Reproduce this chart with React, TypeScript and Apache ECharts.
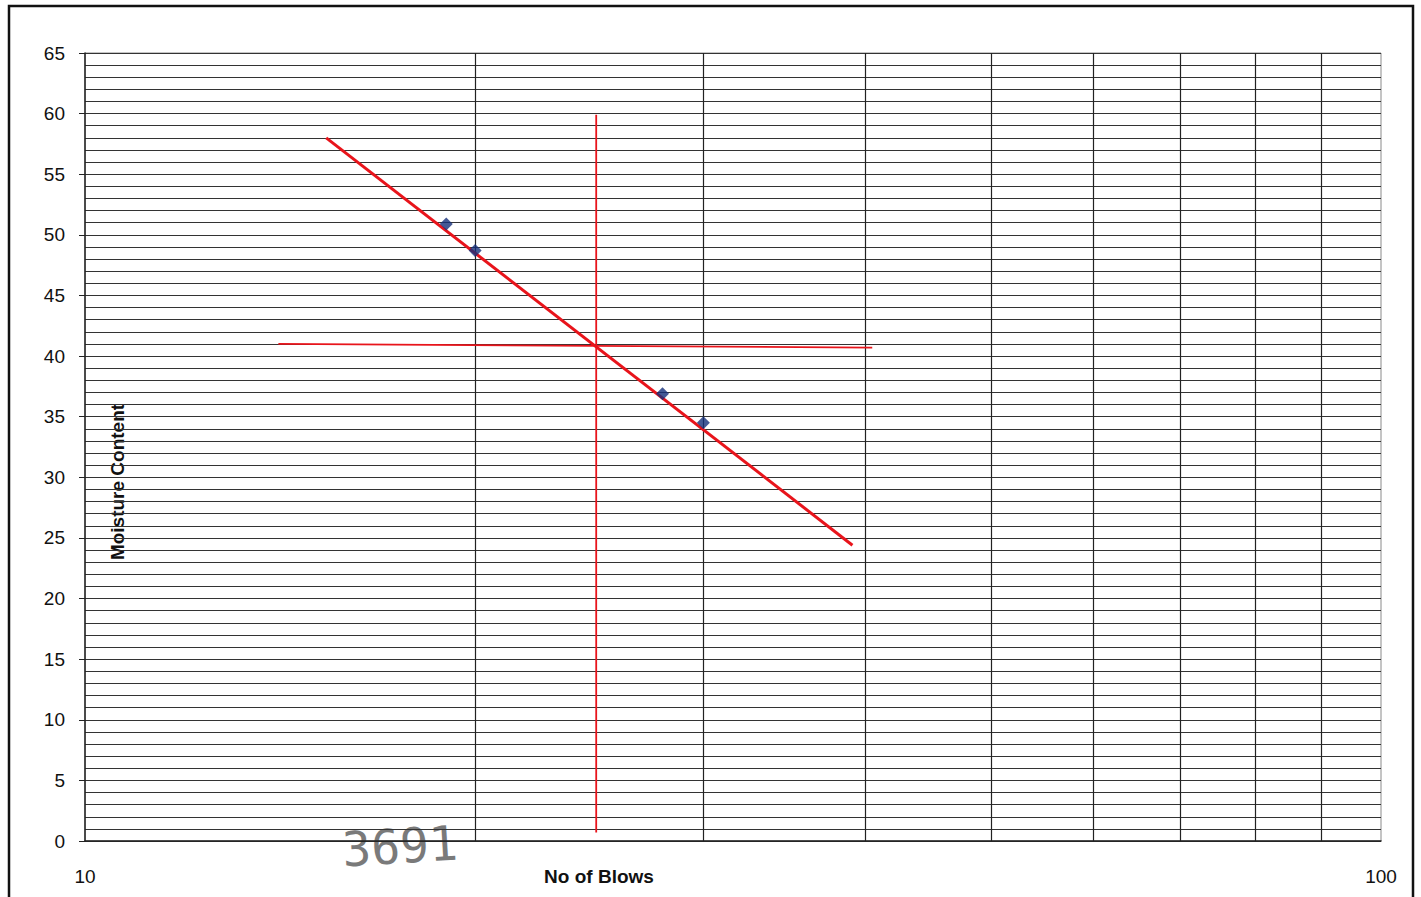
import React, { useEffect, useRef } from "react";
import * as echarts from "echarts";

const blows = [19, 20, 27.9, 30];
const moisture = [50.9, 48.7, 36.9, 34.5];
const trendX = [15.35, 39.1];
const trendY = [58.0, 24.4];
const crossV = [[24.8, 59.9], [24.8, 0.7]];
const crossH = [[14.1, 41.0], [40.5, 40.7]];
const verticalGrid = [20, 30, 40, 50, 60, 70, 80, 90];
const yTicks = [0, 5, 10, 15, 20, 25, 30, 35, 40, 45, 50, 55, 60, 65];

export default function App() {
  const ref = useRef<HTMLDivElement>(null);
  useEffect(() => {
    document.body.style.margin = "0";
    const chart = echarts.init(ref.current!, null, { renderer: "svg" });
    const font = "Liberation Sans, Arial, sans-serif";
    chart.setOption({
      animation: false,
      backgroundColor: "#ffffff",
      grid: { left: 85, right: 40, top: 53, bottom: 56, show: true, borderColor: "#8a8a8a", borderWidth: 1 },
      xAxis: {
        type: "log",
        logBase: 10,
        min: 10,
        max: 100,
        axisLine: { show: true, onZero: false, lineStyle: { color: "#222", width: 1.5 } },
        axisTick: { show: false },
        splitLine: { show: false },
        axisLabel: { color: "#111", fontSize: 19, fontFamily: font, margin: 26 },
      },
      yAxis: {
        type: "value",
        min: 0,
        max: 65,
        interval: 5,
        axisLine: { show: true, lineStyle: { color: "#222", width: 1.5 } },
        axisTick: { show: true, length: 6, lineStyle: { color: "#222" } },
        axisLabel: {
          color: "#111",
          fontSize: 19,
          fontFamily: font,
          margin: 20,
          formatter: (v: number) => (yTicks.includes(v) ? String(v) : ""),
        },
        splitLine: { show: true, lineStyle: { color: "#333", width: 1.2 } },
        minorTick: { show: false, splitNumber: 5 },
        minorSplitLine: { show: true, lineStyle: { color: "#333", width: 1.2 } },
      },
      graphic: [
        {
          type: "rect",
          shape: { x: 9, y: 6, width: 1404, height: 900 },
          style: { fill: "none", stroke: "#111", lineWidth: 2.5 },
          silent: true,
        },
        {
          type: "text",
          x: 117,
          y: 482,
          rotation: Math.PI / 2,
          style: {
            text: "Moisture Content",
            fontSize: 19,
            fontWeight: "bold",
            fontFamily: font,
            fill: "#111",
            align: "center",
            verticalAlign: "middle",
          },
        },
        {
          type: "text",
          x: 599,
          y: 876,
          style: {
            text: "No of Blows",
            fontSize: 19,
            fontWeight: "bold",
            fontFamily: font,
            fill: "#111",
            align: "center",
            verticalAlign: "middle",
          },
        },
        {
          type: "text",
          x: 400,
          y: 846,
          rotation: 0.06,
          style: {
            text: "3691",
            fontSize: 48,
            fontFamily: "DejaVu Sans Mono, monospace",
            fill: "#7a7a7a",
            align: "center",
            verticalAlign: "middle",
          },
        },
      ],
      series: [
        {
          type: "line",
          data: [],
          silent: true,
          markLine: {
            silent: true,
            symbol: "none",
            label: { show: false },
            lineStyle: { color: "#222", width: 1.2, type: "solid" },
            data: verticalGrid.map((v) => ({ xAxis: v })),
          },
        },
        {
          type: "line",
          data: trendX.map((x, i) => [x, trendY[i]]),
          showSymbol: false,
          lineStyle: { color: "#e8141b", width: 3 },
          z: 5,
        },
        {
          type: "line",
          data: crossV,
          showSymbol: false,
          lineStyle: { color: "#e8141b", width: 1.8 },
          z: 5,
        },
        {
          type: "line",
          data: crossH,
          showSymbol: false,
          lineStyle: { color: "#e8141b", width: 1.8 },
          z: 5,
        },
        {
          type: "scatter",
          data: blows.map((x, i) => [x, moisture[i]]),
          symbol: "diamond",
          symbolSize: 13,
          itemStyle: { color: "#15307a" },
          z: 6,
        },
      ],
    });
    return () => chart.dispose();
  }, []);
  return <div ref={ref} style={{ width: 1421, height: 897 }} />;
}
